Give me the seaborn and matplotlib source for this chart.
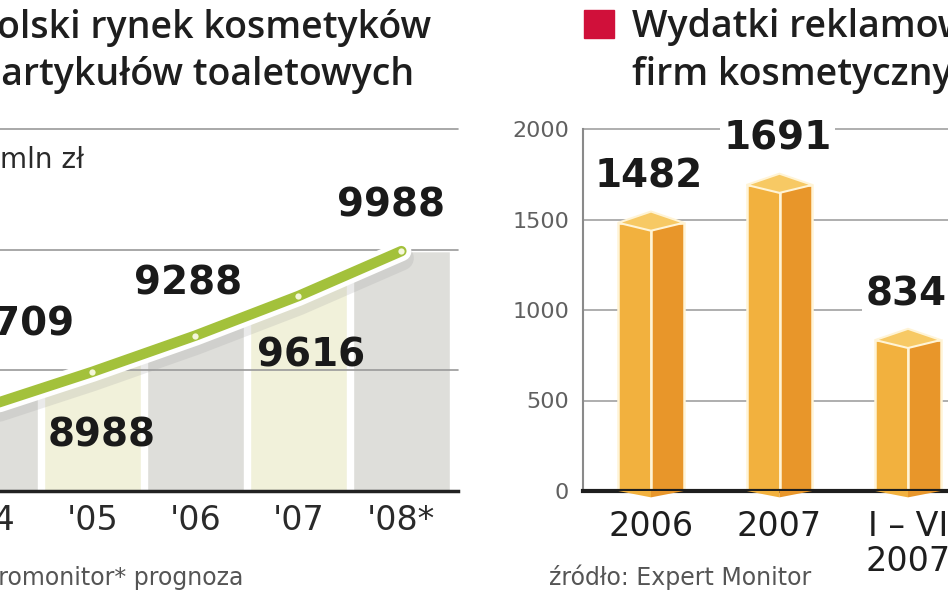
import numpy as np
import matplotlib
matplotlib.use("Agg")
import matplotlib.pyplot as plt
import matplotlib.patheffects as pe
from matplotlib.patches import Rectangle
import seaborn as sns

# left panel: market of cosmetics, mln zl
market_years = ["'04", "'05", "'06", "'07", "'08*"]
market_values = [8709, 8988, 9288, 9616, 9988]
market_labels = ["8709", "8988", "9288", "9616", "9988"]

# right panel: advertising spend
ad_periods = ["2006", "2007", "I – VI\n2007"]
ad_values = [1482, 1691, 834]
ad_labels = ["1482", "1691", "834"]
ad_ticks = [0, 500, 1000, 1500, 2000]

W, H = 948, 593
sns.set_theme(style="white")
plt.rcParams['font.family'] = ['DejaVu Sans']

fig = plt.figure(figsize=(W / 100, H / 100), dpi=100)
fig.patch.set_facecolor("white")


def fx(px):
    return px / W


def fy(py):
    return 1 - py / H


# ---------------- left panel ----------------
axL = fig.add_axes([fx(-62), fy(491), fx(520), (491 - 129) / H])
ylo, yhi = 8000, 11000
col_colors = ["#DEDEDA", "#F1F1DA"] * 3
sns.barplot(x=market_years, y=[yhi] * len(market_years), hue=market_years,
            palette=col_colors[:len(market_years)], width=0.94, legend=False,
            ax=axL, zorder=1, saturation=1)
axL.set_xlim(-0.5, 4.55)
axL.set_ylim(ylo, yhi)

xs = np.arange(len(market_values))
x_ext = np.concatenate([[-0.5], xs, [4.55]])
y_ext = np.concatenate([[market_values[0]], market_values, [market_values[-1]]])
axL.fill_between(x_ext, y_ext, yhi, color="white", zorder=2)

for g in [9000, 10000, 11000]:
    axL.axhline(g, color="#9A9A9A", lw=1.2, zorder=3, clip_on=False)

axL.plot(xs, market_values, color="#A3C13B", lw=7.5, solid_capstyle="round",
         zorder=5,
         path_effects=[pe.SimpleLineShadow(offset=(0, -5), shadow_color="#9A9A9A", alpha=0.2, linewidth=18),
                       pe.Stroke(linewidth=14.5, foreground="white"), pe.Normal()])
axL.plot(xs, market_values, "o", color="#F4F7DA", ms=4.5, mec="none", zorder=6)

offs = [(31, 81), (9, -64), (-7, 52), (13, -59), (-10, 46)]
for x, v, lab, (dx, dy) in zip(xs, market_values, market_labels, offs):
    axL.annotate(lab, (x, v), xytext=(dx, dy), textcoords="offset pixels",
                 ha="center", va="center", fontsize=28, fontweight="bold",
                 color="#1A1A1A", zorder=7)

for s in ["left", "right", "top"]:
    axL.spines[s].set_visible(False)
axL.spines["bottom"].set_color("#222222")
axL.spines["bottom"].set_linewidth(2.5)
axL.spines["bottom"].set_zorder(8)
axL.set_yticks([])
axL.set_xlabel("")
axL.set_ylabel("")
axL.tick_params(axis="x", length=0, pad=9, labelsize=24, labelcolor="#2A2A2A")

fig.text(fx(0), fy(160), "mln zł", fontsize=20, color="#2A2A2A", va="center", ha="left")

# ---------------- right panel ----------------
pos0, step = 651, 128.5
axR = fig.add_axes([fx(583), fy(491), fx(948 - 583), (491 - 129) / H])
axR.set_xlim((583 - pos0) / step, (948 - pos0) / step)
axR.set_ylim(0, 2000)

pos = np.arange(len(ad_values))
bw = 0.51
face_l, face_r, face_t, edge = "#F2B13E", "#E8962A", "#F7C964", "#FFF4D6"
for g in ad_ticks[1:]:
    axR.axhline(g, color="#A8A8A8", lw=1.3, zorder=1, clip_on=False)
axR.bar(pos - bw / 2, ad_values, width=bw / 2, align="edge", color=face_l,
        edgecolor=edge, lw=1.8, zorder=3)
axR.bar(pos, ad_values, width=bw / 2, align="edge", color=face_r,
        edgecolor=edge, lw=1.8, zorder=3)
up, dn = 62, 44
for p, v in zip(pos, ad_values):
    axR.fill([p - bw / 2, p, p + bw / 2, p], [v, v + up, v, v - dn],
             color=face_t, ec=edge, lw=1.5, zorder=4)
    axR.fill([p - bw / 2, p, p], [0, -dn * 0.8, 0], color=face_l, zorder=6, clip_on=False, lw=0)
    axR.fill([p, p + bw / 2, p], [-dn * 0.8, 0, 0], color=face_r, zorder=6, clip_on=False, lw=0)

for p, v, lab in zip(pos, ad_values, ad_labels):
    axR.annotate(lab, (p, v), xytext=(-2, 46), textcoords="offset pixels",
                 ha="center", va="center", fontsize=28, fontweight="bold",
                 color="#1A1A1A", zorder=7,
                 bbox=dict(boxstyle="square,pad=0.08", fc="white", ec="none"))

axR.set_xticks(pos)
axR.set_xticklabels(ad_periods, linespacing=1.05)
axR.set_yticks(ad_ticks)
axR.tick_params(axis="x", length=0, pad=14, labelsize=24, labelcolor="#1E1E1E")
axR.tick_params(axis="y", length=0, pad=10, labelsize=16, labelcolor="#606060")
for s in ["right", "top"]:
    axR.spines[s].set_visible(False)
axR.spines["left"].set_color("#8A8A8A")
axR.spines["left"].set_linewidth(1.5)
axR.spines["bottom"].set_color("#1E1E1E")
axR.spines["bottom"].set_linewidth(3)
axR.spines["bottom"].set_zorder(5)

# ---------------- titles and sources ----------------
tkw = dict(fontsize=27, fontweight="semibold", color="#1E1E1E", family=["Open Sans", "DejaVu Sans"],
           va="baseline", ha="left")
fig.text(fx(-26), fy(38), "Polski rynek kosmetyków", **tkw)
fig.text(fx(-19), fy(85), "i artykułów toaletowych", **tkw)
fig.patches.append(Rectangle((fx(584), fy(38)), fx(30), 28 / H, transform=fig.transFigure,
                             color="#D0103A", figure=fig))
fig.text(fx(632), fy(37), "Wydatki reklamowe", **tkw)
fig.text(fx(632), fy(85), "firm kosmetycznych", **tkw)

skw = dict(fontsize=17, color="#555555", va="center")
fig.text(fx(243), fy(577), "źródło: Euromonitor* prognoza", ha="right", **skw)
fig.text(fx(549), fy(577), "źródło: Expert Monitor", ha="left", **skw)

fig.savefig("out.png", dpi=100)
